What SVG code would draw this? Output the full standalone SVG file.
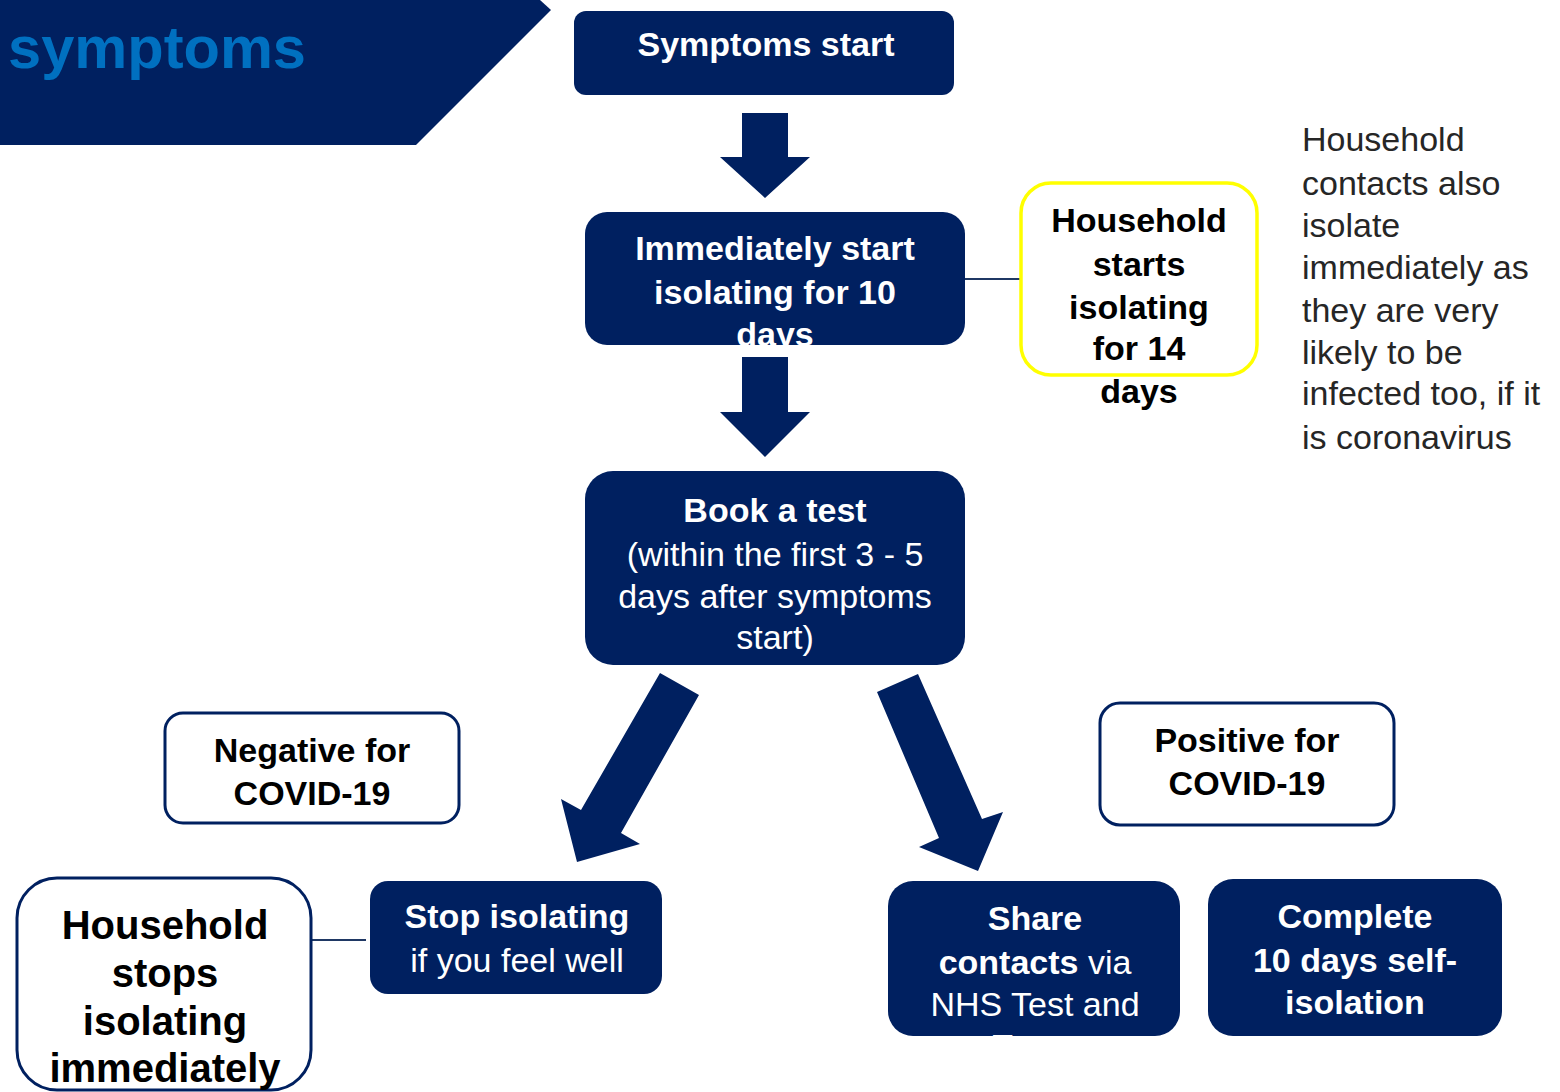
<svg xmlns="http://www.w3.org/2000/svg" width="1560" height="1092" viewBox="0 0 1560 1092">
<style>
.nb{fill:#002060;}
.wb{fill:#ffffff;stroke:#002060;stroke-width:3;}
.yb{fill:#ffffff;stroke:#FFFF00;stroke-width:3.5;}
text{font-family:"Liberation Sans",Arial,sans-serif;font-size:34px;text-anchor:middle;}
.w{fill:#ffffff;}
.k{fill:#000000;}
.b{font-weight:bold;}
.note{fill:#262626;text-anchor:start;}
.con{stroke:#1F3864;stroke-width:2;fill:none;}
.arr{fill:#002060;}
</style>
<rect width="1560" height="1092" fill="#ffffff"/>
<g id="banner">
<polygon class="nb" points="0,0 540,0 551,10 416,145 0,145"/>
<text x="8" y="68" style="font-size:60px;font-weight:bold;fill:#0070C0;text-anchor:start" textLength="298" lengthAdjust="spacingAndGlyphs">symptoms</text>
</g>
<g id="connectors">
<polygon class="arr" points="742,113 788,113 788,157 810,157 765,198 720,157 742,157"/>
<polygon class="arr" points="742,357 788,357 788,412 810,412 765,457 720,412 742,412"/>
<polygon class="arr" points="660,673 699,695 621,833 640,844 577,862 561,799 581,810"/>
<polygon class="arr" points="877,692 918,674 982,819 1003,812 978,871 919,847 939,838"/>
<line class="con" x1="965" y1="279" x2="1021" y2="279"/>
<line class="con" x1="311" y1="940" x2="366" y2="940"/>
</g>
<g id="symptoms-start">
<rect class="nb" x="574" y="11" width="380" height="84" rx="12"/>
<text class="w b" x="766" y="56">Symptoms start</text>
</g>
<g id="isolate-10">
<rect class="nb" x="585" y="212" width="380" height="133" rx="22"/>
<text class="w b" x="775" y="260">Immediately start</text>
<text class="w b" x="775" y="304">isolating for 10</text>
<text class="w b" x="775" y="346">days</text>
</g>
<g id="household-14">
<rect class="yb" x="1021" y="183" width="236" height="192" rx="30"/>
<text class="k b" x="1139" y="232">Household</text>
<text class="k b" x="1139" y="276">starts</text>
<text class="k b" x="1139" y="319">isolating</text>
<text class="k b" x="1139" y="360">for 14</text>
<text class="k b" x="1139" y="403">days</text>
</g>
<g id="note">
<text class="note" x="1302" y="151">Household</text>
<text class="note" x="1302" y="195">contacts also</text>
<text class="note" x="1302" y="237">isolate</text>
<text class="note" x="1302" y="279">immediately as</text>
<text class="note" x="1302" y="322">they are very</text>
<text class="note" x="1302" y="364">likely to be</text>
<text class="note" x="1302" y="405">infected too, if it</text>
<text class="note" x="1302" y="449">is coronavirus</text>
</g>
<g id="book-test">
<rect class="nb" x="585" y="471" width="380" height="194" rx="28"/>
<text class="w b" x="775" y="522">Book a test</text>
<text class="w" x="775" y="566">(within the first 3 - 5</text>
<text class="w" x="775" y="608">days after symptoms</text>
<text class="w" x="775" y="649">start)</text>
</g>
<g id="negative">
<rect class="wb" x="165" y="713" width="294" height="110" rx="18"/>
<text class="k b" x="312" y="762">Negative for</text>
<text class="k b" x="312" y="805">COVID-19</text>
</g>
<g id="positive">
<rect class="wb" x="1100" y="703" width="294" height="122" rx="20"/>
<text class="k b" x="1247" y="752">Positive for</text>
<text class="k b" x="1247" y="795">COVID-19</text>
</g>
<g id="household-stops">
<rect class="wb" x="17" y="878" width="294" height="212" rx="40"/>
<text class="k b" x="165" y="939" style="font-size:40px">Household</text>
<text class="k b" x="165" y="987" style="font-size:40px">stops</text>
<text class="k b" x="165" y="1035" style="font-size:40px">isolating</text>
<text class="k b" x="165" y="1082" style="font-size:40px">immediately</text>
</g>
<g id="stop-isolating">
<rect class="nb" x="370" y="881" width="292" height="113" rx="18"/>
<text class="w b" x="517" y="928">Stop isolating</text>
<text class="w" x="517" y="972">if you feel well</text>
</g>
<g id="share-contacts">
<rect class="nb" x="888" y="881" width="292" height="155" rx="25"/>
<text class="w b" x="1035" y="930">Share</text>
<text class="w" x="1035" y="974"><tspan class="b">contacts</tspan> via</text>
<text class="w" x="1035" y="1016">NHS Test and</text>
<text class="w" x="1035" y="1058">Trace</text>
</g>
<g id="complete">
<rect class="nb" x="1208" y="879" width="294" height="157" rx="25"/>
<text class="w b" x="1355" y="928">Complete</text>
<text class="w b" x="1355" y="972">10 days self-</text>
<text class="w b" x="1355" y="1014">isolation</text>
</g>
</svg>
